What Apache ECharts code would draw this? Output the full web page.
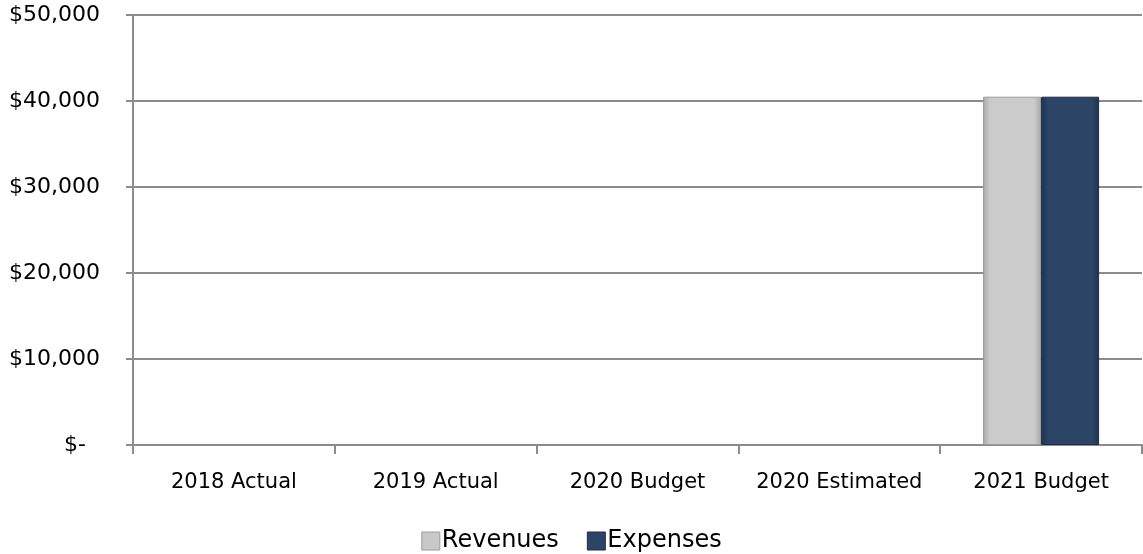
<!DOCTYPE html>
<html><head><meta charset="utf-8">
<script src="https://cdn.jsdelivr.net/npm/echarts@6/dist/echarts.min.js"></script>
<style>html,body{margin:0;padding:0;background:#fff}#c{width:1143px;height:554px}</style>
</head><body><div id="c"></div>
<script>
const categories = ['2018 Actual','2019 Actual','2020 Budget','2020 Estimated','2021 Budget'];
const revenues = [0,0,0,0,40500];
const expenses = [0,0,0,0,40500];
const yTicks = [0,10000,20000,30000,40000,50000];

const chart = echarts.init(document.getElementById('c'));
const font = '"DejaVu Sans", Verdana, sans-serif';
function grad(edge, mid){
  return new echarts.graphic.LinearGradient(0,0,1,0,[
    {offset:0,color:edge},{offset:0.12,color:mid},{offset:0.88,color:mid},{offset:1,color:edge}]);
}
function prep(arr){ return arr.map(v => v===0 ? {value:v,itemStyle:{borderWidth:0,opacity:0}} : v); }
chart.setOption({
  animation:false,
  grid:{left:133,right:1,top:15,bottom:109},
  legend:{top:524,left:'center',itemWidth:18,itemHeight:18,itemGap:28,
    textStyle:{fontFamily:font,fontSize:24,color:'#000',padding:[0,0,0,-3]},
    data:[{name:'Revenues',icon:'rect',itemStyle:{color:'#c8c8c8',borderColor:'#9a9a9a',borderWidth:1}},
          {name:'Expenses',icon:'rect',itemStyle:{color:'#2c4566',borderColor:'#1e2f48',borderWidth:1}}]},
  xAxis:{type:'category',data:categories,
    axisLine:{lineStyle:{color:'#8c8c8c',width:2}},
    axisTick:{show:true,interval:0,length:9,lineStyle:{color:'#8c8c8c',width:2},alignWithLabel:false},
    axisLabel:{interval:0,hideOverlap:false,fontFamily:font,fontSize:21,color:'#000',margin:27}},
  yAxis:{type:'value',min:yTicks[0],max:yTicks[yTicks.length-1],interval:10000,
    axisLine:{show:true,lineStyle:{color:'#8c8c8c',width:2}},
    axisTick:{show:true,length:7,lineStyle:{color:'#8c8c8c',width:2}},
    splitLine:{lineStyle:{color:'#8c8c8c',width:2}},
    axisLabel:{fontFamily:font,fontSize:22,color:'#000',margin:33,
      formatter:v=> v===0 ? '$-  ' : '$'+v.toLocaleString('en-US')}},
  series:[
    {name:'Revenues',type:'bar',data:prep(revenues),barWidth:58,barGap:'0%',
     itemStyle:{color:grad('#a9a9a9','#cbcbcb'),borderColor:'#9a9a9a',borderWidth:1}},
    {name:'Expenses',type:'bar',data:prep(expenses),barWidth:58,
     itemStyle:{color:grad('#1f3350','#2c4566'),borderColor:'#1e2f48',borderWidth:1}}
  ]
});
</script></body></html>
